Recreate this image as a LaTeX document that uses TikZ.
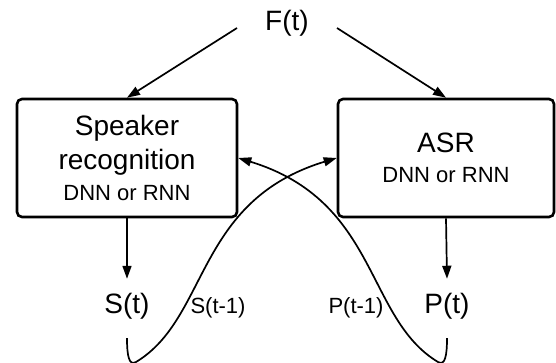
\documentclass[tikz,border=0pt]{standalone}
\usepackage{fontspec}
\setmainfont{Liberation Sans}
\usetikzlibrary{arrows.meta}
\begin{document}
\begin{tikzpicture}[x=1pt,y=-1pt,
  box/.style={draw, line width=2.6pt, rounded corners=5pt, align=center,
    inner sep=0pt, font=\fontsize{28}{34}\selectfont},
  big/.style={font=\fontsize{28}{34}\selectfont, inner xsep=0pt, inner ysep=14pt},
  small/.style={font=\fontsize{22}{26}\selectfont, inner sep=0pt},
  link/.style={line width=1.7pt, -{Triangle[length=13pt,width=9pt]}},
]
\useasboundingbox (0,0) rectangle (556,362);

% input feature
\node[font=\fontsize{28}{34}\selectfont, inner sep=0pt] (F) at (287,23) {F(t)};
\coordinate (Fl) at (237,28);
\coordinate (Fr) at (337,28);

% the two networks
\node[box, minimum width=220pt, minimum height=118pt] (SR) at (127,158)
  {Speaker\\recognition\\[-3pt]{\fontsize{22}{26}\selectfont DNN or RNN}};
\node[box, minimum width=216pt, minimum height=118pt] (ASR) at (446,158)
  {ASR\\[-4pt]{\fontsize{22}{26}\selectfont DNN or RNN}};

% outputs
\node[big] (St) at (127,306) {S(t)};
\node[big] (Pt) at (447,306) {P(t)};
\node[small] (Sl) at (218,308) {S(t-1)};
\node[small] (Pl) at (356,308) {P(t-1)};
\coordinate (Sb) at (127,338);
\coordinate (Pb) at (447,338);

% feed-forward arrows
\draw[link] (Fl) -- (SR.north);
\draw[link] (Fr) -- (ASR.north);
\draw[link] (SR.south) -- (St.north);
\draw[link] (ASR.south) -- (Pt.north);

% delayed feedback loops
\draw[link]
  (Sb) .. controls (127,356) and (129,366) .. (136,362)
       .. controls (209,318) and (195,201) .. (ASR.west);
\draw[link]
  (Pb) .. controls (447,356) and (445,366) .. (438,362)
       .. controls (365,318) and (379,201) .. (SR.east);
\end{tikzpicture}
\end{document}
